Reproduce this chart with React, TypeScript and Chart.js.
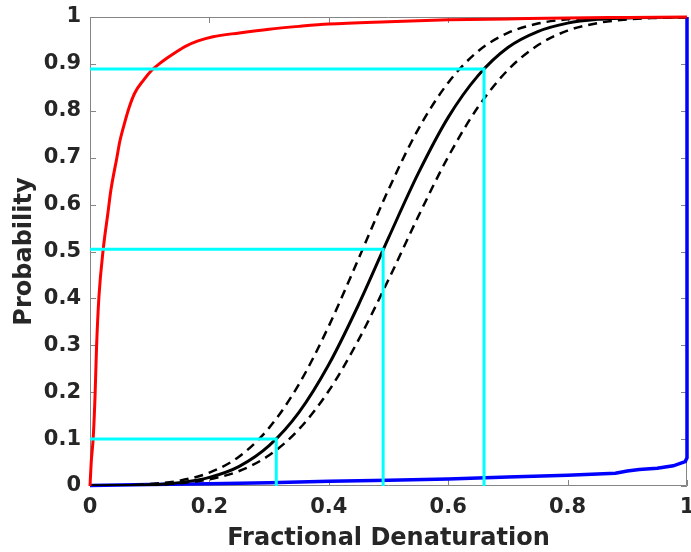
import React, { useEffect, useRef } from "react";
import { Chart, registerables } from "chart.js";

Chart.register(...registerables);

// ---- data ----
const xTickLabels = ["0", "0.2", "0.4", "0.6", "0.8", "1"];
const yTickLabels = ["0", "0.1", "0.2", "0.3", "0.4", "0.5", "0.6", "0.7", "0.8", "0.9", "1"];

const redX = [0, 0.002, 0.0055, 0.0084, 0.011, 0.015, 0.022, 0.03, 0.035, 0.045, 0.05, 0.056, 0.065, 0.075, 0.09, 0.103, 0.117, 0.131, 0.145, 0.159, 0.181, 0.206, 0.25, 0.3, 0.35, 0.4, 0.5, 0.6, 0.7, 0.8, 0.9, 1.0];
const redY = [0, 0.05, 0.105, 0.19, 0.297, 0.404, 0.503, 0.582, 0.631, 0.7, 0.735, 0.765, 0.805, 0.838, 0.866, 0.886, 0.901, 0.914, 0.926, 0.937, 0.949, 0.958, 0.966, 0.974, 0.98, 0.985, 0.99, 0.994, 0.996, 0.998, 0.999, 1.0];

const curveX = [0, 0.05, 0.1, 0.15, 0.2, 0.25, 0.3, 0.35, 0.4, 0.45, 0.5, 0.55, 0.6, 0.65, 0.7, 0.75, 0.8, 0.85, 0.9, 0.95, 1.0];
const meanY = [0.0002, 0.0008, 0.0025, 0.0072, 0.0185, 0.042, 0.086, 0.157, 0.259, 0.387, 0.529, 0.667, 0.786, 0.875, 0.935, 0.969, 0.987, 0.995, 0.998, 0.9995, 1.0];
const upperY = [0.0003, 0.0013, 0.004, 0.0114, 0.0285, 0.063, 0.124, 0.217, 0.341, 0.485, 0.632, 0.761, 0.86, 0.927, 0.966, 0.986, 0.995, 0.9984, 0.9996, 1.0, 1.0];
const lowerY = [0.0002, 0.0007, 0.002, 0.0057, 0.0143, 0.032, 0.0655, 0.121, 0.203, 0.312, 0.44, 0.575, 0.702, 0.808, 0.887, 0.9396, 0.971, 0.987, 0.995, 0.998, 0.9995];

const blueX = [0, 0.1, 0.2, 0.3, 0.4, 0.5, 0.6, 0.7, 0.8, 0.88, 0.9, 0.92, 0.95, 0.977, 0.997, 1.0, 1.0];
const blueY = [0.001, 0.003, 0.005, 0.007, 0.01, 0.012, 0.015, 0.019, 0.023, 0.027, 0.032, 0.035, 0.038, 0.043, 0.052, 0.06, 1.0];

// percentile markers: [x, y]
const markerX = [0.66, 0.491, 0.312];
const markerY = [0.889, 0.505, 0.1];

const TEXT = "#262626";
const FONT = "'DejaVu Sans', sans-serif";

function pts(xs: number[], ys: number[]) {
  return xs.map((x, i) => ({ x, y: ys[i] }));
}

const framePlugin = {
  id: "frame",
  beforeDatasetsDraw(chart: any) {
    const { ctx, chartArea } = chart;
    const { left, right, top, bottom } = chartArea;
    const xs = chart.scales.x;
    const ys = chart.scales.y;
    ctx.save();
    ctx.strokeStyle = "#858585";
    ctx.lineWidth = 1;
    ctx.beginPath();
    ctx.rect(left + 0.5, top + 0.5, right - left - 1, bottom - top - 1);
    ctx.stroke();
    const tl = 6;
    ctx.beginPath();
    xs.ticks.forEach((t: any) => {
      const px = Math.round(xs.getPixelForValue(t.value)) + 0.5;
      ctx.moveTo(px, bottom);
      ctx.lineTo(px, bottom - tl);
      ctx.moveTo(px, top);
      ctx.lineTo(px, top + tl);
    });
    ys.ticks.forEach((t: any) => {
      const py = Math.round(ys.getPixelForValue(t.value)) + 0.5;
      ctx.moveTo(left, py);
      ctx.lineTo(left + tl, py);
      ctx.moveTo(right, py);
      ctx.lineTo(right - tl, py);
    });
    ctx.stroke();
    ctx.restore();
  },
};

export default function App() {
  const ref = useRef<HTMLCanvasElement | null>(null);

  useEffect(() => {
    if (!ref.current) return;
    const cyan = markerX.map((mx, i) => ({
      data: [
        { x: 0, y: markerY[i] },
        { x: mx, y: markerY[i] },
        { x: mx, y: 0 },
      ],
      borderColor: "#00ffff",
      borderWidth: 3,
      pointRadius: 0,
      tension: 0,
    }));
    const chart = new Chart(ref.current, {
      type: "line",
      data: {
        datasets: [
          ...cyan,
          {
            data: pts(redX, redY),
            borderColor: "#ff0000",
            borderWidth: 3,
            pointRadius: 0,
            cubicInterpolationMode: "monotone",
            clip: 3,
          },
          {
            data: pts(curveX, meanY),
            borderColor: "#000000",
            borderWidth: 3,
            pointRadius: 0,
            cubicInterpolationMode: "monotone",
          },
          {
            data: pts(curveX, upperY),
            borderColor: "#000000",
            borderWidth: 2.5,
            borderDash: [9, 6],
            pointRadius: 0,
            cubicInterpolationMode: "monotone",
          },
          {
            data: pts(curveX, lowerY),
            borderColor: "#000000",
            borderWidth: 2.5,
            borderDash: [9, 6],
            pointRadius: 0,
            cubicInterpolationMode: "monotone",
          },
          {
            data: pts(blueX, blueY),
            borderColor: "#0000ff",
            borderWidth: 3.5,
            pointRadius: 0,
            tension: 0,
            clip: 3,
          },
        ] as any,
      },
      options: {
        animation: false,
        responsive: false,
        maintainAspectRatio: false,
        layout: { padding: { top: 17, right: 4, left: 0, bottom: 0 } },
        plugins: { legend: { display: false }, tooltip: { enabled: false } },
        scales: {
          x: {
            type: "linear",
            min: 0,
            max: 1,
            grid: { display: false, drawTicks: false },
            border: { display: false },
            ticks: {
              stepSize: 0.2,
              padding: 9,
              color: TEXT,
              font: { family: FONT, size: 21, weight: "bold" },
              autoSkip: false,
              maxRotation: 0,
              callback: (_v: any, i: number) => xTickLabels[i],
            },
            title: {
              display: true,
              text: "Fractional Denaturation",
              color: TEXT,
              font: { family: FONT, size: 24, weight: "bold" },
              padding: { top: 0, bottom: -1 },
            },
            afterFit: (s: any) => {
              s.height = 66;
              s.paddingLeft = 0;
              s.paddingRight = 0;
            },
          },
          y: {
            type: "linear",
            min: 0,
            max: 1,
            grid: { display: false, drawTicks: false },
            border: { display: false },
            ticks: {
              stepSize: 0.1,
              padding: 9,
              color: TEXT,
              font: { family: FONT, size: 21, weight: "bold" },
              autoSkip: false,
              callback: (_v: any, i: number) => yTickLabels[i],
            },
            title: {
              display: true,
              text: "Probability",
              color: TEXT,
              font: { family: FONT, size: 24, weight: "bold" },
              padding: { top: 10, bottom: 0 },
            },
            afterFit: (s: any) => {
              s.width = 90;
              s.paddingTop = 0;
              s.paddingBottom = 0;
            },
          },
        },
      } as any,
      plugins: [framePlugin],
    });
    return () => chart.destroy();
  }, []);

  return (
    <div style={{ position: "fixed", left: 0, top: 0, width: 691, height: 552, background: "#fff" }}>
      <canvas ref={ref} width={691} height={552} />
    </div>
  );
}
